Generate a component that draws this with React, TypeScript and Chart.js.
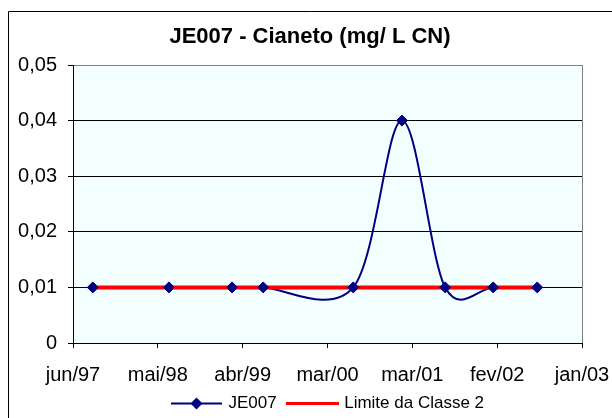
import React, { useEffect, useRef } from "react";
import { Chart, registerables } from "chart.js";

Chart.register(...registerables);

// ---- data ----
const chartTitle = "JE007 - Cianeto (mg/ L CN)";
const axisStartDate = "1997-06-01";
const axisStepDays = 343;
const xTickLabels = ["jun/97", "mai/98", "abr/99", "mar/00", "mar/01", "fev/02", "jan/03"];
const yMax = 0.05;
const yStep = 0.01;

const sampleDates = [
  "1997-08-20",
  "1998-06-24",
  "1999-03-06",
  "1999-07-10",
  "2000-07-08",
  "2001-01-21",
  "2001-07-15",
  "2002-01-25",
  "2002-07-22",
];
const je007Values = [0.01, 0.01, 0.01, 0.01, 0.01, 0.04, 0.01, 0.01, 0.01];
const limiteClasse2Values = [0.01, 0.01, 0.01, 0.01, 0.01, 0.01, 0.01, 0.01, 0.01];

const seriesNames = ["JE007", "Limite da Classe 2"];

// ---- helpers ----
function dayOffset(d: string): number {
  const base = Date.parse(axisStartDate + "T00:00:00Z");
  return Math.round((Date.parse(d + "T00:00:00Z") - base) / 86400000);
}

const FONT = "'Liberation Sans', Arial, sans-serif";
const NAVY = "#000080";
const RED = "#FF0000";

function makeBlueLegendImage(): HTMLCanvasElement {
  const c = document.createElement("canvas");
  c.width = 51;
  c.height = 13;
  const g = c.getContext("2d")!;
  g.strokeStyle = NAVY;
  g.lineWidth = 2;
  g.beginPath();
  g.moveTo(0, 6.5);
  g.lineTo(51, 6.5);
  g.stroke();
  g.fillStyle = NAVY;
  g.beginPath();
  g.moveTo(25.5 - 6, 6.5);
  g.lineTo(25.5, 0.5);
  g.lineTo(25.5 + 6, 6.5);
  g.lineTo(25.5, 12.5);
  g.closePath();
  g.fill();
  return c;
}

function makeRedLegendImage(): HTMLCanvasElement {
  const c = document.createElement("canvas");
  c.width = 53;
  c.height = 5;
  const g = c.getContext("2d")!;
  g.fillStyle = RED;
  g.fillRect(0, 1, 53, 3);
  return c;
}

// Excel-like smoothing: Catmull-Rom control points (neighbour difference / 6)
const excelSmoothing = {
  id: "excelSmoothing",
  beforeDatasetDraw(chart: any, args: any) {
    if (args.index !== 0) return;
    const meta = args.meta;
    const pts = meta.data;
    const n = pts.length;
    for (let i = 0; i < n; i++) {
      const p = pts[i];
      const prev = pts[Math.max(0, i - 1)];
      const next = pts[Math.min(n - 1, i + 1)];
      const dx = (next.x - prev.x) / 6;
      const dy = (next.y - prev.y) / 6;
      p.cp1x = p.x - dx;
      p.cp1y = p.y - dy;
      p.cp2x = p.x + dx;
      p.cp2y = p.y + dy;
    }
    if (meta.dataset) meta.dataset._pointsUpdated = true;
  },
};

const customLayout = {
  id: "customLayout",
  afterLayout(chart: any) {
    const t = chart.titleBlock;
    if (t) {
      t.left = 0;
      t.right = 620;
      t.width = 620;
      t.top = 23.5;
      t.bottom = 23.5 + 26.4;
    }
    const l = chart.legend;
    if (l) {
      l.left = 0;
      l.right = 657;
      l.width = 657;
      l.top = 383;
      l.bottom = 418;
      l.height = 35;
    }
  },
  beforeDraw(chart: any) {
    const { ctx, chartArea: a } = chart;
    ctx.save();
    ctx.fillStyle = "#FFFFFF";
    ctx.fillRect(0, 0, chart.width, chart.height);
    ctx.fillStyle = "#F3FFFF";
    ctx.fillRect(a.left, a.top, a.right - a.left, a.bottom - a.top);
    ctx.strokeStyle = "#000000";
    ctx.lineWidth = 1;
    ctx.beginPath();
    ctx.moveTo(8.5, chart.height);
    ctx.lineTo(8.5, 11.5);
    ctx.lineTo(chart.width, 11.5);
    ctx.stroke();
    ctx.restore();
  },
  beforeDatasetsDraw(chart: any) {
    const { ctx, chartArea: a } = chart;
    ctx.save();
    ctx.strokeStyle = "#808080";
    ctx.lineWidth = 1;
    ctx.beginPath();
    const x = Math.round(a.right) + 0.5;
    ctx.moveTo(x, a.top);
    ctx.lineTo(x, a.bottom);
    ctx.stroke();
    ctx.restore();
  },
};

export default function App() {
  const ref = useRef<HTMLCanvasElement>(null);

  useEffect(() => {
    const canvas = ref.current;
    if (!canvas) return;

    const xs = sampleDates.map(dayOffset);
    const je007Points = xs.map((x, i) => ({ x, y: je007Values[i] }));
    const limitePoints = xs.map((x, i) => ({ x, y: limiteClasse2Values[i] }));

    const blueImg = makeBlueLegendImage();
    const redImg = makeRedLegendImage();

    const chart = new Chart(canvas, {
      type: "line",
      data: {
        datasets: [
          {
            label: seriesNames[0],
            data: je007Points,
            borderColor: NAVY,
            backgroundColor: NAVY,
            borderWidth: 2,
            tension: 0.5,
            pointRadius: 0,
            fill: false,
            order: 3,
          },
          {
            label: seriesNames[1],
            data: limitePoints,
            borderColor: RED,
            backgroundColor: RED,
            borderWidth: 4,
            tension: 0,
            pointRadius: 0,
            fill: false,
            order: 2,
          },
          {
            label: seriesNames[0] + " markers",
            data: je007Points,
            showLine: false,
            pointStyle: "rectRot",
            pointRadius: 5.5,
            pointBorderWidth: 1,
            pointBackgroundColor: NAVY,
            pointBorderColor: NAVY,
            borderColor: NAVY,
            backgroundColor: NAVY,
            order: 1,
          },
        ],
      },
      options: {
        responsive: false,
        maintainAspectRatio: false,
        devicePixelRatio: 1,
        animation: false,
        events: [],
        layout: {
          padding: { left: 0, right: 30, top: 38.6, bottom: 0 },
        },
        scales: {
          x: {
            type: "linear",
            min: 0,
            max: axisStepDays * (xTickLabels.length - 1),
            afterFit: (scale: any) => {
              scale.height = 74;
              scale.paddingLeft = 0;
              scale.paddingRight = 0;
            },
            ticks: {
              stepSize: axisStepDays,
              autoSkip: false,
              maxRotation: 0,
              minRotation: 0,
              padding: 15,
              color: "#000000",
              font: { family: FONT, size: 20 },
              callback: (value: any) => xTickLabels[Math.round(Number(value) / axisStepDays)] ?? "",
            },
            grid: {
              display: true,
              drawOnChartArea: false,
              drawTicks: true,
              tickLength: 5,
              color: "#000000",
              tickColor: "#000000",
            },
            border: { display: true, color: "#000000", width: 1 },
          },
          y: {
            type: "linear",
            min: 0,
            max: yMax,
            afterFit: (scale: any) => {
              scale.width = 73;
              scale.paddingTop = 0;
              scale.paddingBottom = 0;
            },
            ticks: {
              stepSize: yStep,
              padding: 11,
              color: "#000000",
              font: { family: FONT, size: 20 },
              callback: (value: any) => {
                const v = Number(value);
                return Math.abs(v) < 1e-9 ? "0" : v.toFixed(2).replace(".", ",");
              },
            },
            grid: {
              display: true,
              drawOnChartArea: true,
              drawTicks: true,
              tickLength: 5,
              color: (c: any) => (c.tick && Math.abs(c.tick.value - yMax) < 1e-9 ? "#808080" : "#000000"),
              tickColor: "#000000",
            },
            border: { display: true, color: "#000000", width: 1 },
          },
        },
        plugins: {
          tooltip: { enabled: false },
          title: {
            display: true,
            text: chartTitle,
            color: "#000000",
            font: { family: FONT, size: 22, weight: "bold", lineHeight: 1.2 },
            padding: { top: 0, bottom: 0 },
          },
          legend: {
            display: true,
            position: "bottom",
            align: "center",
            maxHeight: 1,
            labels: {
              usePointStyle: true,
              pointStyleWidth: 47,
              padding: 12,
              color: "#000000",
              font: { family: FONT, size: 17 },
              generateLabels: () => [
                {
                  text: seriesNames[0],
                  pointStyle: blueImg,
                  fillStyle: NAVY,
                  strokeStyle: NAVY,
                  lineWidth: 0,
                  hidden: false,
                  datasetIndex: 0,
                  fontColor: "#000000",
                },
                {
                  text: seriesNames[1],
                  pointStyle: redImg,
                  fillStyle: RED,
                  strokeStyle: RED,
                  lineWidth: 0,
                  hidden: false,
                  datasetIndex: 1,
                  fontColor: "#000000",
                },
              ],
            },
          },
        },
      },
      plugins: [customLayout, excelSmoothing],
    } as any);

    return () => chart.destroy();
  }, []);

  return (
    <canvas
      ref={ref}
      width={612}
      height={418}
      style={{ position: "fixed", left: 0, top: 0, width: 612, height: 418, display: "block" }}
    />
  );
}
